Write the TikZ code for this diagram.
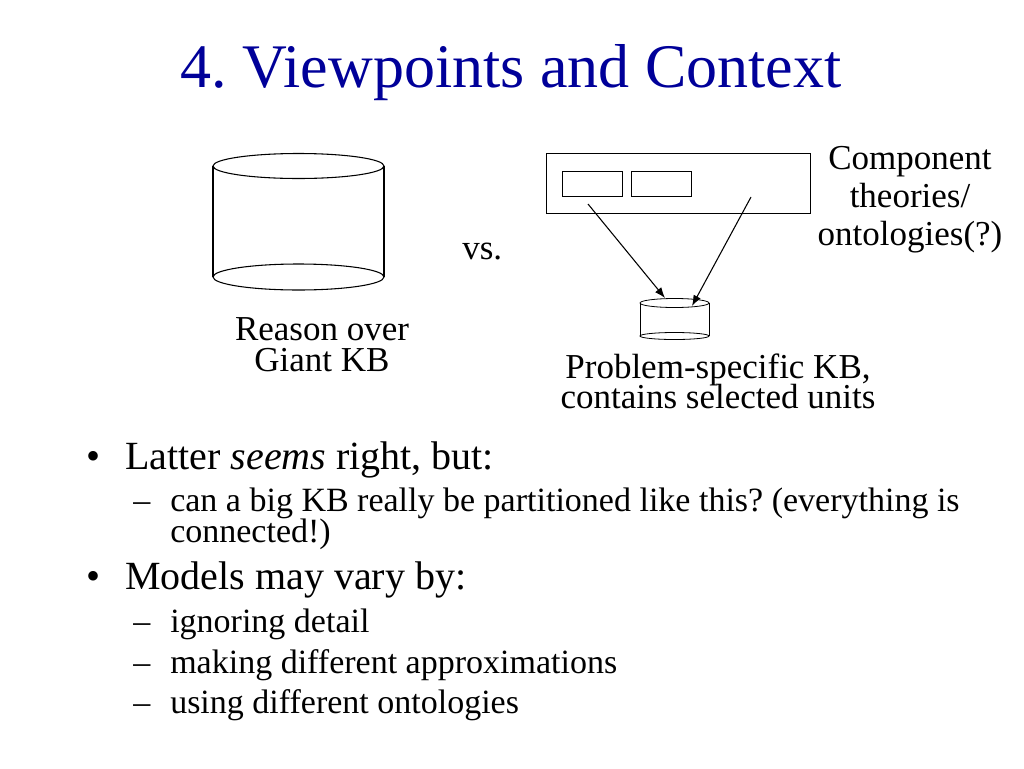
\documentclass[tikz,border=0pt]{standalone}
\usepackage{fontspec}
\setmainfont{Liberation Serif}
\usepackage{xcolor}
\usetikzlibrary{arrows.meta,positioning}
\definecolor{slideblue}{RGB}{0,0,153}
\frenchspacing

\begin{document}
\begin{tikzpicture}[x=0.75pt,y=-0.75pt,>={Latex[length=8pt,width=6pt]},
  kb/.style={draw=black,line width=0.8pt},
  lbl/.style={inner sep=0pt,align=center,font=\fontsize{26.25}{26.25}\selectfont},
  body/.style={inner sep=0pt,anchor=base west,font=\fontsize{30}{30}\selectfont},
  sub/.style={inner sep=0pt,anchor=base west,font=\fontsize{25.5}{25.5}\selectfont}]
\useasboundingbox (0,0) rectangle (1024,768);
\node[inner sep=0pt,anchor=base,text=slideblue,font=\fontsize{46.5}{46.5}\selectfont] (title) at (511,87) {4. Viewpoints and Context};
% giant KB
\draw[kb] (213,166) -- (213,277) (384,166) -- (384,277);
\draw[kb] (298.5,166) ellipse (85.5 and 12.5);
\draw[kb] (298.5,277) ellipse (85.5 and 13);
\node[lbl,anchor=base] (reason) at (322,371) {Reason over\\[-3pt]Giant KB};
\node[lbl,anchor=base west] (vs) at (462,259) {vs.};
% component theories
\node[draw,line width=0.6pt,minimum width=198pt,minimum height=45pt,inner sep=0pt] (comp) at (678,183) {};
\node[draw,line width=0.6pt,minimum width=45pt,minimum height=18.75pt,inner sep=0pt] (th1) at (592,183.5) {};
\node[draw,line width=0.6pt,minimum width=45pt,minimum height=18.75pt,inner sep=0pt] (th2) at (661,183.5) {};
\node[lbl,anchor=base] (onto) at (910,245) {Component\\[2pt]theories/\\[2pt]ontologies(?)};
% problem-specific KB
\draw[kb,line width=0.6pt] (640,303) -- (640,336) (709,303) -- (709,336);
\draw[kb,line width=0.6pt] (674.5,303) ellipse (34.5 and 4.5);
\draw[kb,line width=0.6pt] (674.5,336) ellipse (34.5 and 3.5);
\coordinate (s1) at (588,204);
\coordinate (s2) at (751,197);
\coordinate (e1) at (665,298);
\coordinate (e2) at (692,306);
\draw[->,line width=0.8pt] (s1) -- (e1);
\draw[->,line width=0.8pt] (s2) -- (e2);
\node[lbl,anchor=base] (prob) at (718,408) {Problem-specific KB,\\[-4pt]contains selected units};
% bullets
\node[body] (b1) at (86,469) {•};
\node[body] (t1) at (125,469) {Latter \textit{seems} right, but:};
\node[sub] (d1) at (133,511) {–};
\node[sub] (u1) at (170,511) {can a big KB really be partitioned like this? (everything is};
\node[sub] (u1b) at (170,542) {connected!)};
\node[body] (b2) at (86,589) {•};
\node[body] (t2) at (125,589) {Models may vary by:};
\node[sub] (d2) at (133,632) {–};
\node[sub] (u2) at (170,632) {ignoring detail};
\node[sub] (d3) at (133,673) {–};
\node[sub] (u3) at (170,673) {making different approximations};
\node[sub] (d4) at (133,713) {–};
\node[sub] (u4) at (170,713) {using different ontologies};
\end{tikzpicture}
\end{document}
